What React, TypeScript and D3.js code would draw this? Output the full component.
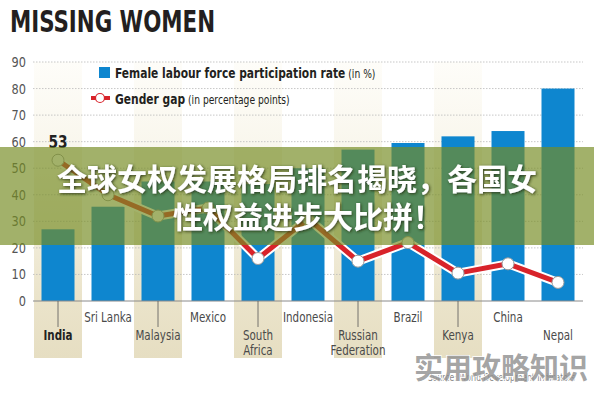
import React, { useEffect, useRef } from 'react';
import * as d3 from 'd3';

const countries = [
  'India', 'Sri Lanka', 'Malaysia', 'Mexico', 'South Africa', 'Indonesia',
  'Russian Federation', 'Brazil', 'Kenya', 'China', 'Nepal'
];
const labelLines = [
  ['India'], ['Sri Lanka'], ['Malaysia'], ['Mexico'], ['South', 'Africa'], ['Indonesia'],
  ['Russian', 'Federation'], ['Brazil'], ['Kenya'], ['China'], ['Nepal']
];
const participation = [27, 35.5, 45, 45, 44, 50, 57, 59.5, 62, 64, 80];
const genderGap = [53, 40, 32, 35, 16, 31, 15, 22, 10.5, 14, 7];
const yTicks = [0, 10, 20, 30, 40, 50, 60, 70, 80, 90];

const font = '"DejaVu Sans Condensed", "Liberation Sans Narrow", "Roboto", sans-serif';
const cjk = '"Noto Sans CJK SC", sans-serif';

const App = () => {
  const ref = useRef<SVGSVGElement>(null);

  useEffect(() => {
    const width = 594;
    const height = 393;
    const svg = d3.select(ref.current);
    svg.selectAll('*').remove();

    const x = d3.scaleBand().domain(countries).range([33, 583]).paddingInner(0.34).paddingOuter(0.17);
    const y = d3.scaleLinear().domain([0, 90]).range([301, 62]);
    const cx = (c: string) => (x(c) as number) + x.bandwidth() / 2;

    // narrow text helper: squeezes glyphs horizontally like the condensed original
    const narrow = (parent: any, px: number, py: number, sx = 0.85) =>
      parent.append('g').attr('transform', `translate(${px},${py}) scale(${sx},1)`).append('text');

    const defs = svg.append('defs');
    const grad = defs.append('linearGradient').attr('id', 'beige').attr('x1', 0).attr('y1', 0).attr('x2', 0).attr('y2', 1);
    grad.append('stop').attr('offset', '0%').attr('stop-color', '#fefdf9');
    grad.append('stop').attr('offset', '35%').attr('stop-color', '#f8f5ea');
    grad.append('stop').attr('offset', '78%').attr('stop-color', '#ebe4cb');
    grad.append('stop').attr('offset', '100%').attr('stop-color', '#e6dec2');
    const shadow = defs.append('filter').attr('id', 'shadow').attr('x', '-10%').attr('y', '-30%').attr('width', '120%').attr('height', '160%');
    shadow.append('feDropShadow').attr('dx', 1).attr('dy', 1).attr('stdDeviation', 1.5)
      .attr('flood-color', '#1e2a10').attr('flood-opacity', 0.85);

    svg.append('rect').attr('width', width).attr('height', height).attr('fill', '#ffffff');

    // beige column bands
    svg.append('g').selectAll('rect')
      .data(countries.filter((c, i) => i % 2 === 0 && i < 10))
      .enter().append('rect')
      .attr('x', d => cx(d) - 24)
      .attr('y', 62)
      .attr('width', 48)
      .attr('height', 296)
      .attr('fill', 'url(#beige)');

    // title
    svg.append('text')
      .attr('x', 10).attr('y', 32)
      .attr('textLength', 205).attr('lengthAdjust', 'spacingAndGlyphs')
      .style('font-family', font).style('font-weight', 'bold').style('font-size', '30px')
      .style('fill', '#231f20')
      .text('MISSING WOMEN');

    // grid + y labels
    const grid = svg.append('g');
    grid.selectAll('line')
      .data(yTicks.filter(t => t > 0))
      .enter().append('line')
      .attr('x1', 33).attr('x2', 583)
      .attr('y1', d => y(d)).attr('y2', d => y(d))
      .attr('stroke', '#b9b9b9').attr('stroke-width', 0.8).attr('stroke-dasharray', '1.5,1.5');
    yTicks.forEach(t => {
      narrow(grid, 26, y(t) + 5, 0.9)
        .attr('text-anchor', 'end')
        .style('font-family', font).style('font-size', '14px').style('fill', '#555')
        .text(t);
    });

    // bars
    svg.append('g').selectAll('rect')
      .data(countries)
      .enter().append('rect')
      .attr('x', d => x(d) as number)
      .attr('width', x.bandwidth())
      .attr('y', (d, i) => y(participation[i]))
      .attr('height', (d, i) => y(0) - y(participation[i]))
      .attr('fill', '#0e86cf');

    // baseline
    svg.append('line').attr('x1', 33).attr('x2', 583).attr('y1', y(0)).attr('y2', y(0))
      .attr('stroke', '#8a8a8a').attr('stroke-width', 1);

    // category labels
    const cats = svg.append('g');
    countries.forEach((c, i) => {
      const low = i % 2 === 0;
      if (low && i < 10) {
        cats.append('line').attr('x1', cx(c)).attr('x2', cx(c)).attr('y1', y(0)).attr('y2', 327)
          .attr('stroke', '#555').attr('stroke-width', 0.8);
      }
      labelLines[i].forEach((t, j) => {
        narrow(cats, cx(c), (low ? 340 : 322) + j * 15, 0.82)
          .attr('text-anchor', 'middle')
          .style('font-family', font).style('font-size', '14px')
          .style('font-weight', i === 0 ? 'bold' : 'normal')
          .style('fill', i === 0 ? '#222' : '#4a4a4a')
          .text(t);
      });
    });

    // gender gap line
    const line = d3.line<number>().x((d, i) => cx(countries[i])).y(d => y(d));
    svg.append('path').datum(genderGap).attr('d', line).attr('fill', 'none')
      .attr('stroke', '#ffffff').attr('stroke-width', 9).attr('stroke-linejoin', 'round');
    svg.append('path').datum(genderGap).attr('d', line).attr('fill', 'none')
      .attr('stroke', '#d8232a').attr('stroke-width', 5).attr('stroke-linejoin', 'round');
    svg.append('g').selectAll('circle')
      .data(genderGap)
      .enter().append('circle')
      .attr('cx', (d, i) => cx(countries[i]))
      .attr('cy', d => y(d))
      .attr('r', 6)
      .attr('fill', '#ffffff').attr('stroke', '#9a9a9a').attr('stroke-width', 1);

    narrow(svg, cx(countries[0]), y(genderGap[0]) - 12, 0.9)
      .attr('text-anchor', 'middle')
      .style('font-family', font).style('font-weight', 'bold').style('font-size', '17px').style('fill', '#222')
      .text(genderGap[0]);
    narrow(svg, cx(countries[10]), y(genderGap[10]) - 13, 0.9)
      .attr('text-anchor', 'middle')
      .style('font-family', font).style('font-weight', 'bold').style('font-size', '17px').style('fill', '#0e86cf')
      .text(genderGap[10]);

    // legend
    const lg = svg.append('g');
    lg.append('rect').attr('x', 99).attr('y', 67).attr('width', 11).attr('height', 11).attr('fill', '#0e86cf');
    const t1 = narrow(lg, 115, 78, 0.85)
      .style('font-family', font).style('font-size', '14px').style('fill', '#231f20');
    t1.append('tspan').style('font-weight', 'bold').text('Female labour force participation rate');
    t1.append('tspan').style('font-size', '12px').text(' (in %)');
    lg.append('line').attr('x1', 91).attr('x2', 110).attr('y1', 98).attr('y2', 98)
      .attr('stroke', '#d8232a').attr('stroke-width', 4);
    lg.append('circle').attr('cx', 100).attr('cy', 98).attr('r', 4.5)
      .attr('fill', '#fff').attr('stroke', '#d8232a').attr('stroke-width', 1.2);
    const t2 = narrow(lg, 115, 104, 0.85)
      .style('font-family', font).style('font-size', '14px').style('fill', '#231f20');
    t2.append('tspan').style('font-weight', 'bold').text('Gender gap');
    t2.append('tspan').style('font-size', '12px').text(' (in percentage points)');

    // source line (sits under the watermark, as in the original)
    narrow(svg, 575, 381, 0.85).attr('text-anchor', 'end')
      .style('font-family', font).style('font-size', '10px').style('fill', '#888')
      .text('Source: World Development Indicators');

    // banner overlay
    svg.append('rect').attr('x', 0).attr('y', 147).attr('width', width).attr('height', 98)
      .attr('fill', 'rgb(118,140,36)').attr('fill-opacity', 0.68);
    const banner = svg.append('g').attr('filter', 'url(#shadow)')
      .style('font-family', cjk).style('font-weight', 'bold').style('font-size', '30px').style('fill', '#ffffff');
    banner.append('text').attr('x', 297).attr('y', 190).attr('text-anchor', 'middle')
      .text('全球女权发展格局排名揭晓，各国女');
    banner.append('text').attr('x', 173).attr('y', 228)
      .text('性权益进步大比拼！');

    // watermark
    svg.append('text').attr('x', 588).attr('y', 379).attr('text-anchor', 'end')
      .style('font-family', cjk).style('font-weight', 'bold').style('font-size', '29px')
      .style('fill', '#8c8c8c').style('fill-opacity', 0.8)
      .style('stroke', '#ffffff').style('stroke-width', 1.5).style('paint-order', 'stroke')
      .text('实用攻略知识');
  }, []);

  return (
    <svg ref={ref} width={594} height={393} style={{ position: 'absolute', left: 0, top: 0 }} />
  );
};

export default App;
